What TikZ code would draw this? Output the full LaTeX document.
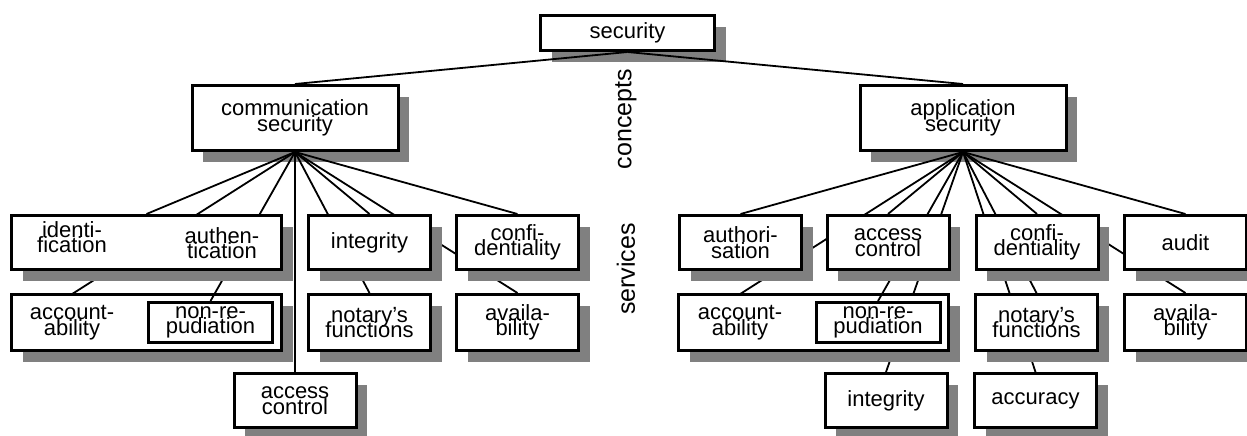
\documentclass[tikz,border=0pt]{standalone}
\usepackage{fontspec}
\setmainfont{Liberation Sans}
\usepackage{tikz}
\usetikzlibrary{shadows,positioning}
\pgfdeclarelayer{back}
\pgfdeclarelayer{front}
\pgfsetlayers{back,main,front}

\newcommand{\boxfont}{\fontsize{11}{7.8}\selectfont\lineskiplimit=-20pt}

\begin{document}
\begin{tikzpicture}[
    x=0.5pt, y=-0.5pt,
    box/.style={rectangle, draw, line width=1.5pt, fill=white, minimum width=61pt, minimum height=27pt, inner sep=0pt, align=center, font=\boxfont, drop shadow={shadow xshift=5.5pt, shadow yshift=-5.5pt, fill=black!50, opacity=1}},
    grp/.style={box, minimum width=135pt},
    inbox/.style={rectangle, draw, line width=1.5pt, fill=white, minimum width=62pt, minimum height=20pt, inner sep=0pt, align=center, font=\boxfont},
    part/.style={inner sep=0pt, minimum height=28pt, align=center, font=\boxfont},
    side/.style={rotate=90, font=\fontsize{12.5}{14}\selectfont},
    link/.style={line width=0.9pt}
]
    \useasboundingbox (0,0) rectangle (1247,435);

    % Concepts
    \begin{pgfonlayer}{back}
    \node[box, minimum width=87pt, minimum height=17.5pt] (sec) at (627.5,33) {security};
    \node[box, minimum width=103pt, minimum height=32.5pt] (com) at (295,118) {communication\\security};
    \node[box, minimum width=103pt, minimum height=32.5pt] (app) at (963,118) {application\\security};
    \end{pgfonlayer}

    \node[side] (cpt) at (626,119) {concepts};
    \node[side] (srv) at (626,269) {services};

    % Communication security: lower rows
    \node[grp, minimum height=28pt] (acgL) at (146.5,322.5) {};
    \node[part] (accL) at (72,322.5) {account-\\ability};
    \node[box, minimum height=28pt] (ntL) at (369.5,322.5) {notary’s\\functions};
    \node[box, minimum height=28pt] (avL) at (517.5,322.5) {availa-\\bility};
    \node[box] (acL) at (295,400.5) {access\\control};

    % Application security: lower rows
    \node[grp, minimum height=28pt] (acgR) at (813.5,322.5) {};
    \node[part] (accR) at (740,322.5) {account-\\ability};
    \node[box, minimum height=28pt] (ntR) at (1036.5,322.5) {notary’s\\functions};
    \node[box, minimum height=28pt] (avR) at (1185.5,322.5) {availa-\\bility};
    \node[box] (intR) at (886,400.5) {integrity};
    \node[box] (acuR) at (1035.5,400.5) {accuracy};

    % First row of services
    \begin{pgfonlayer}{front}
    \node[grp] (idg) at (146.5,242.5) {};
    \node[part] (idL) at (72,237) {identi-\\fication};
    \node[part] (auL) at (222,243) {authen-\\tication};
    \node[box] (intL) at (369.5,242.5) {integrity};
    \node[box] (cfL) at (517.5,242.5) {confi-\\dentiality};
    \node[inbox] (nrL) at (210.5,322.5) {non-re-\\pudiation};

    \node[box] (auR) at (740.5,242.5) {authori-\\sation};
    \node[box] (acR) at (888,242.5) {access\\control};
    \node[box] (cfR) at (1037,242.5) {confi-\\dentiality};
    \node[box] (audR) at (1185.5,242.5) {audit};
    \node[inbox] (nrR) at (878,322.5) {non-re-\\pudiation};
    \end{pgfonlayer}

    \draw[link] (com.south) -- (nrL.north);
    \draw[link] (app.south) -- (nrR.north);

    % Tree lines
    \begin{pgfonlayer}{back}
    \draw[link] (sec.south) -- (com.north);
    \draw[link] (sec.south) -- (app.north);

    \foreach \c in {idg,accL,acL,intL,ntL,cfL,avL}
        \draw[link] (com.south) -- (\c.north);
    \foreach \c in {auR,accR,acR,intR,cfR,ntR,acuR,audR,avR}
        \draw[link] (app.south) -- (\c.north);
    \end{pgfonlayer}
\end{tikzpicture}
\end{document}
